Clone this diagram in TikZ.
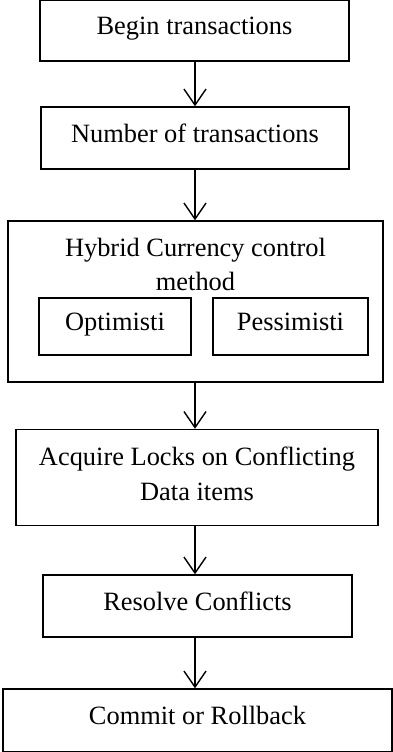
\documentclass[tikz,border=0pt]{standalone}
\usepackage{fontspec}
\setmainfont{Liberation Serif}
\usetikzlibrary{arrows.meta}
\tikzset{
  frame/.style={draw, line width=1.4pt, rectangle, inner sep=0pt},
  box/.style={frame, font=\fontsize{26.4}{34}\selectfont, text height=18pt, text depth=10pt},
  txt/.style={inner sep=0pt, anchor=base, font=\fontsize{26.4}{34}\selectfont},
  flow/.style={line width=1.4pt, -{Straight Barb[length=16pt,width=22pt,line width=1.4pt]}}
}
\begin{document}
\begin{tikzpicture}[x=1pt,y=-1pt]
  \useasboundingbox (0,0) rectangle (392,752);
  % main flow boxes
  \node[box, minimum width=309pt, minimum height=61pt] (begin) at (194.5,30.5) {Begin transactions};
  \node[box, minimum width=308pt, minimum height=62pt] (number) at (195,138) {Number of transactions};
  % hybrid method with its two sub-methods
  \node[frame, minimum width=375pt, minimum height=161pt] (hybrid) at (195.5,301.5) {};
  \node[txt] (title1) at (195.5,256.5) {Hybrid Currency control};
  \node[txt] (title2) at (195.5,290.5) {method};
  \node[box, minimum width=152pt, minimum height=57pt] (opt) at (115,326.5) {Optimisti};
  \node[box, minimum width=155pt, minimum height=57pt] (pess) at (290.5,326.5) {Pessimisti};
  % locking step
  \node[frame, minimum width=362pt, minimum height=96pt] (locks) at (197,477.5) {};
  \node[txt] (locks1) at (197,465) {Acquire Locks on Conflicting};
  \node[txt] (locks2) at (197,500) {Data items};
  \node[box, minimum width=309pt, minimum height=62pt] (resolve) at (197.5,606) {Resolve Conflicts};
  \node[box, minimum width=389pt, minimum height=63pt] (commit) at (197.5,720.5) {Commit or Rollback};
  % connectors
  \draw[flow] (begin.south -| 195,0) -- (number.north -| 195,0);
  \draw[flow] (number.south -| 195,0) -- (hybrid.north -| 195,0);
  \draw[flow] (hybrid.south -| 195,0) -- (locks.north -| 195,0);
  \draw[flow] (locks.south -| 195,0) -- (resolve.north -| 195,0);
  \draw[flow] (resolve.south -| 195,0) -- (commit.north -| 195,0);
\end{tikzpicture}
\end{document}
